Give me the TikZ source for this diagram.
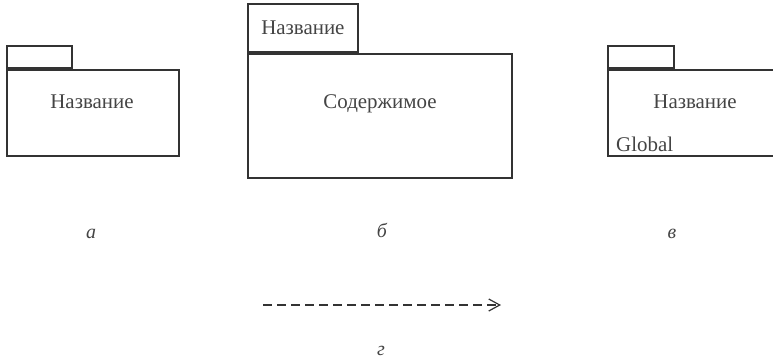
\documentclass[tikz,border=0pt]{standalone}
\usepackage{fontspec}
\setmainfont{Liberation Serif}
\usetikzlibrary{arrows.meta,positioning}
\definecolor{linegray}{HTML}{333333}
\definecolor{textgray}{HTML}{444444}

\begin{document}
\begin{tikzpicture}[
  x=1bp, y=-1bp,
  body/.style={draw=linegray, line width=1.8bp, inner sep=0pt, anchor=north west},
  tab/.style={draw=linegray, line width=1.8bp, inner sep=0pt, anchor=south west},
  txt/.style={text=textgray, font=\fontsize{21}{24}\selectfont, inner sep=0pt},
  caption/.style={text=textgray, font=\fontsize{20}{24}\selectfont\itshape, inner sep=0pt, anchor=base},
  dep/.style={draw=linegray, line width=1.2bp, dash pattern=on 9bp off 5bp, -{Straight Barb[length=11bp, width=12bp]}}
]
\clip (0,0) rectangle (773,361);

% a: plain package
\node[body, minimum width=172bp, minimum height=86bp] (bodyA) at (6,69) {};
\node[tab, minimum width=65bp, minimum height=22bp] (tabA) at (bodyA.north west) {};
\node[txt] (nameA) at (92,102) {Название};
\node[caption] (capA) at (91,238) {а};

% b: package with contents
\node[body, minimum width=264bp, minimum height=124bp] (bodyB) at (247,53) {};
\node[tab, minimum width=110bp, minimum height=48bp] (tabB) at (bodyB.north west) {};
\node[txt] (nameB) at (tabB.center) {Название};
\node[txt] (contB) at (380,104) {Содержимое};
\node[caption] (capB) at (382,237) {б};

% c: global package
\node[body, minimum width=172bp, minimum height=86bp] (bodyC) at (607,69) {};
\node[tab, minimum width=66bp, minimum height=22bp] (tabC) at (bodyC.north west) {};
\node[txt] (nameC) at (695,102) {Название};
\node[txt, anchor=base west] (globC) at (616,151) {Global};
\node[caption] (capC) at (672,238) {в};

% d: dependency
\coordinate (depS) at (263,305);
\coordinate (depE) at (501,305);
\draw[dep] (depS) -- (depE);
\node[caption] (capD) at (381,355) {г};

\end{tikzpicture}
\end{document}
